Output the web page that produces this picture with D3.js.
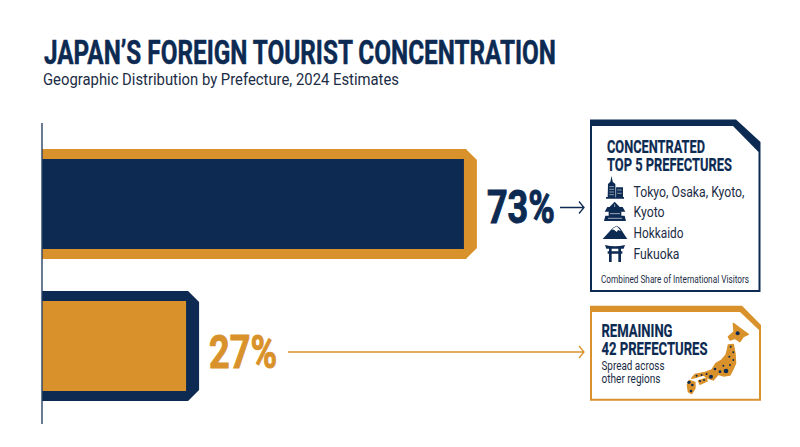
<!DOCTYPE html>
<html><head><meta charset="utf-8">
<script src="https://cdn.jsdelivr.net/npm/d3@7/dist/d3.min.js"></script>
<style>html,body{margin:0;padding:0;background:#fff}svg{display:block}text{font-family:Roboto,sans-serif}</style>
</head><body><svg id="c" width="800" height="447"></svg>
<script>
const categories = ["Top 5 prefectures", "Remaining 42 prefectures"];
const shares = [73, 27];
const shareLabels = ["73%", "27%"];
const topList = ["Tokyo, Osaka, Kyoto,", "Kyoto", "Hokkaido", "Fukuoka"];
const navy = "#0c2a52", orange = "#d9922b", ink = "#1b2c45";
const outerFill = [orange, navy], innerFill = [navy, orange], labelFill = [navy, orange];

const svg = d3.select("#c");
const x = d3.scaleLinear().domain([0, 100]).range([36, 640]);
const y = d3.scaleBand().domain(categories).range([149, 401]).paddingInner(0.2254);
const axisX = 42;

function txt(s, px, py, size, weight, fill, len, heavy) {
  const t = svg.append("text").attr("x", px).attr("y", py).attr("font-size", size)
    .attr("font-weight", weight).attr("fill", fill).text(s);
  if (len) t.attr("textLength", len).attr("lengthAdjust", "spacingAndGlyphs");
  if (heavy) t.attr("stroke", fill).attr("stroke-width", heavy);
  return t;
}
txt("JAPAN’S FOREIGN TOURIST CONCENTRATION", 44, 64, 33, 700, navy, 512, 0.5);
txt("Geographic Distribution by Prefecture, 2024 Estimates", 43, 85, 16, 400, ink, 356);

// bars
const notch = 11;
svg.selectAll("path.outer").data(categories).join("path").attr("class", "outer")
  .attr("fill", (d, i) => outerFill[i])
  .attr("d", (d, i) => {
    const r = x(shares[i]), t = y(d), b = t + y.bandwidth();
    return d3.line()([[axisX, t], [r - notch, t], [r, t + notch], [r, b - notch], [r - notch, b], [axisX, b]]) + "Z";
  });
svg.selectAll("rect.inner").data(categories).join("rect").attr("class", "inner")
  .attr("fill", (d, i) => innerFill[i])
  .attr("x", axisX).attr("y", d => y(d) + 10)
  .attr("width", (d, i) => x(shares[i]) - 13 - axisX)
  .attr("height", y.bandwidth() - 20);
svg.append("line").attr("x1", axisX).attr("x2", axisX).attr("y1", 123).attr("y2", 424)
  .attr("stroke", "#2a4266").attr("stroke-width", 1.4);

// value labels
svg.selectAll("text.val").data(categories).join("text").attr("class", "val")
  .attr("x", (d, i) => x(shares[i]) + 10)
  .attr("y", d => y(d) + y.bandwidth() / 2 + [19, 22][categories.indexOf(d)])
  .attr("font-size", 47).attr("font-weight", 700)
  .attr("textLength", 68).attr("lengthAdjust", "spacingAndGlyphs")
  .attr("stroke", (d, i) => labelFill[i]).attr("stroke-width", 1)
  .attr("fill", (d, i) => labelFill[i]).text((d, i) => shareLabels[i]);

// arrows
function arrow(x1, x2, ay, col) {
  svg.append("path").attr("fill", "none").attr("stroke", col).attr("stroke-width", 1.3)
    .attr("d", `M${x1},${ay}H${x2}M${x2 - 5},${ay - 6}L${x2},${ay}L${x2 - 5},${ay + 6}`);
}
arrow(560, 584, 207.5, navy);
arrow(288, 584, 352, orange);

// card 1
svg.append("path").attr("fill", navy).attr("d", "M590,119.5H736L760.5,142V292H590Z");
svg.append("path").attr("fill", "#fff").attr("d", "M592,126H733L758.5,152V290H592Z");
txt("CONCENTRATED", 607, 152.7, 17.5, 700, navy, 98, 0.2);
txt("TOP 5 PREFECTURES", 607, 170.7, 17.5, 700, navy, 125, 0.2);
const listY = [196.7, 217, 238, 259], listLen = [111, 31, 50, 46];
topList.forEach((s, i) => txt(s, 633.5, listY[i], 14.5, 400, ink, listLen[i]));
txt("Combined Share of International Visitors", 601, 282.7, 10.5, 400, ink, 148);

// icons (drawn in 3x crop units)
const ic = svg.append("g").attr("transform", "translate(580,110) scale(0.3333)").attr("fill", navy);
ic.append("path").attr("d", "M95,198L98,215L106,222L107,262H83L84,222L91,215ZM107,232H129V262H107ZM78,261H132V266H78Z");
ic.append("path").attr("fill", "none").attr("stroke", "#fff").attr("stroke-width", 1.6)
  .attr("d", "M88,230H102M88,238H102M88,246H102M88,254H102M112,240H125M112,250H125M107,232V262");
ic.append("path").attr("d", "M104,275L120,292H88ZM82,291H128L136,305H74ZM86,305H124V317H86ZM76,317L134,317L138,333H72Z");
ic.append("path").attr("fill", "none").attr("stroke", "#fff").attr("stroke-width", 1.8)
  .attr("d", "M90,311H120M84,325H126M104,283V291");
ic.append("path").attr("d", "M68,387L98,354L110,347L120,354L142,387Z");
ic.append("path").attr("fill", "#fff").attr("d", "M95,358L110,349L118,357L122,363L114,360L110,366L103,360Z");
ic.append("path").attr("d", "M75,405Q105,412 135,405L131,416H79ZM83,424H127V431H83ZM87,415H95V456H87ZM115,415H123V456H115Z");

// card 2
svg.append("path").attr("fill", orange).attr("d", "M590,305.7H742L761,325V400.7H590Z");
svg.append("path").attr("fill", "#fff").attr("d", "M592,312H740L759,330V398.7H592Z");
txt("REMAINING", 601.5, 336.7, 17.5, 700, navy, 71, 0.2);
txt("42 PREFECTURES", 601.5, 355, 17.5, 700, navy, 106, 0.2);
txt("Spread across", 601.5, 370, 12.5, 400, ink, 63);
txt("other regions", 601.5, 382.5, 12.5, 400, ink, 59);

// Japan map (3x crop units)
const jp = svg.append("g").attr("transform", "translate(580,295) scale(0.3333)");
jp.append("path").attr("fill", orange).attr("stroke", orange).attr("stroke-width", 4).attr("stroke-linejoin", "round").attr("d",
  "M460,85L480,100L505,118L490,125L480,140L465,130L450,135L445,125L462,110Z" +
  "M445,150L460,148L465,175L467,205L458,225L450,240L430,243L415,238L400,255L385,250L370,240L345,248L335,250L345,238L375,232L395,225L408,205L425,195L438,180L442,165Z" +
  "M328,256L345,262L345,280L335,296L325,290L322,270Z" +
  "M355,258L378,250L382,258L360,268Z");
const jpDots = [[473,115,6],[452,155,3],[460,172,3],[448,185,3],[460,195,3],[450,210,3],[438,228,7],[420,230,4],[430,212,3],[405,222,4],[393,245,6],[380,237,3],[365,240,3],[350,242,3],[327,262,5],[337,270,4],[333,288,4],[360,258,3],[372,255,3]];
jp.selectAll("circle").data(jpDots).join("circle").attr("cx", d => d[0]).attr("cy", d => d[1]).attr("r", d => d[2]).attr("fill", navy);
</script></body></html>
